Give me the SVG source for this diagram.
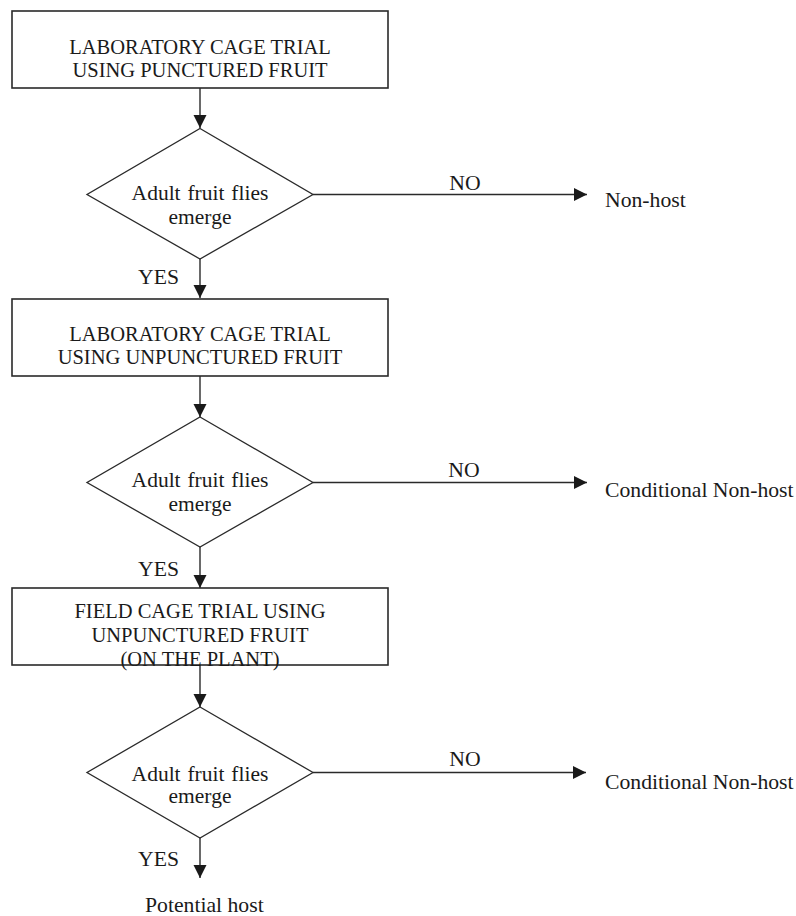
<svg xmlns="http://www.w3.org/2000/svg" width="796" height="916" viewBox="0 0 796 916">
<defs>
<marker id="ah" markerUnits="userSpaceOnUse" markerWidth="14" markerHeight="14" refX="13" refY="6.5" orient="auto">
<path d="M0,0 L13,6.5 L0,13 Z" fill="#1a1a1a"/>
</marker>
<style>
text{font-family:"Liberation Serif","Times New Roman",serif;font-size:21.7px;fill:#1a1a1a}
.c{text-anchor:middle}
.bt{font-size:20.5px}
.dt{font-size:21.5px;word-spacing:1.5px}
.box{fill:#fff;stroke:#2a2a2a;stroke-width:1.6}
.dia{fill:#fff;stroke:#2a2a2a;stroke-width:1.3}
.con line{stroke:#2a2a2a;stroke-width:1.4;marker-end:url(#ah)}
</style>
</defs>
<rect width="796" height="916" fill="#fff"/>
<g id="connectors" class="con">
<line x1="200" y1="88" x2="200" y2="128"/>
<line x1="313" y1="194.5" x2="587" y2="194.5"/>
<line x1="200" y1="259" x2="200" y2="298"/>
<line x1="200" y1="376" x2="200" y2="417"/>
<line x1="313" y1="482.5" x2="587" y2="482.5"/>
<line x1="200" y1="547" x2="200" y2="588"/>
<line x1="200" y1="665" x2="200" y2="707"/>
<line x1="313" y1="772.5" x2="586" y2="772.5"/>
<line x1="200" y1="838" x2="200" y2="878"/>
</g>
<g id="box1">
<rect class="box" x="12" y="11" width="376" height="77"/>
<text class="c bt" x="200" y="54">LABORATORY CAGE TRIAL</text>
<text class="c bt" x="200" y="77">USING PUNCTURED FRUIT</text>
</g>
<g id="dec1">
<polygon class="dia" points="200,128.5 313,194.5 200,259 87,194.5"/>
<text class="c dt" x="200" y="200">Adult fruit flies</text>
<text class="c dt" x="200" y="224">emerge</text>
</g>
<g id="box2">
<rect class="box" x="12" y="299" width="376" height="77"/>
<text class="c bt" x="200" y="341">LABORATORY CAGE TRIAL</text>
<text class="c bt" x="200" y="364">USING UNPUNCTURED FRUIT</text>
</g>
<g id="dec2">
<polygon class="dia" points="200,417 313,482.5 200,547 87,482.5"/>
<text class="c dt" x="200" y="487">Adult fruit flies</text>
<text class="c dt" x="200" y="511">emerge</text>
</g>
<g id="box3">
<rect class="box" x="12" y="588" width="376" height="77"/>
<text class="c bt" x="200" y="618">FIELD CAGE TRIAL USING</text>
<text class="c bt" x="200" y="642">UNPUNCTURED FRUIT</text>
<text class="c bt" x="200" y="666">(ON THE PLANT)</text>
</g>
<g id="dec3">
<polygon class="dia" points="200,707 313,772.5 200,838 87,772.5"/>
<text class="c dt" x="200" y="781">Adult fruit flies</text>
<text class="c dt" x="200" y="803">emerge</text>
</g>
<g id="labels">
<text class="c" x="465" y="190">NO</text>
<text class="c" x="464" y="477">NO</text>
<text class="c" x="465" y="766">NO</text>
<text x="138" y="284">YES</text>
<text x="138" y="576">YES</text>
<text x="138" y="866">YES</text>
</g>
<g id="nonhost1"><text x="605" y="207">Non-host</text></g>
<g id="cond1"><text x="605" y="497">Conditional Non-host</text></g>
<g id="cond2"><text x="605" y="789">Conditional Non-host</text></g>
<g id="host"><text x="145" y="912">Potential host</text></g>
</svg>
